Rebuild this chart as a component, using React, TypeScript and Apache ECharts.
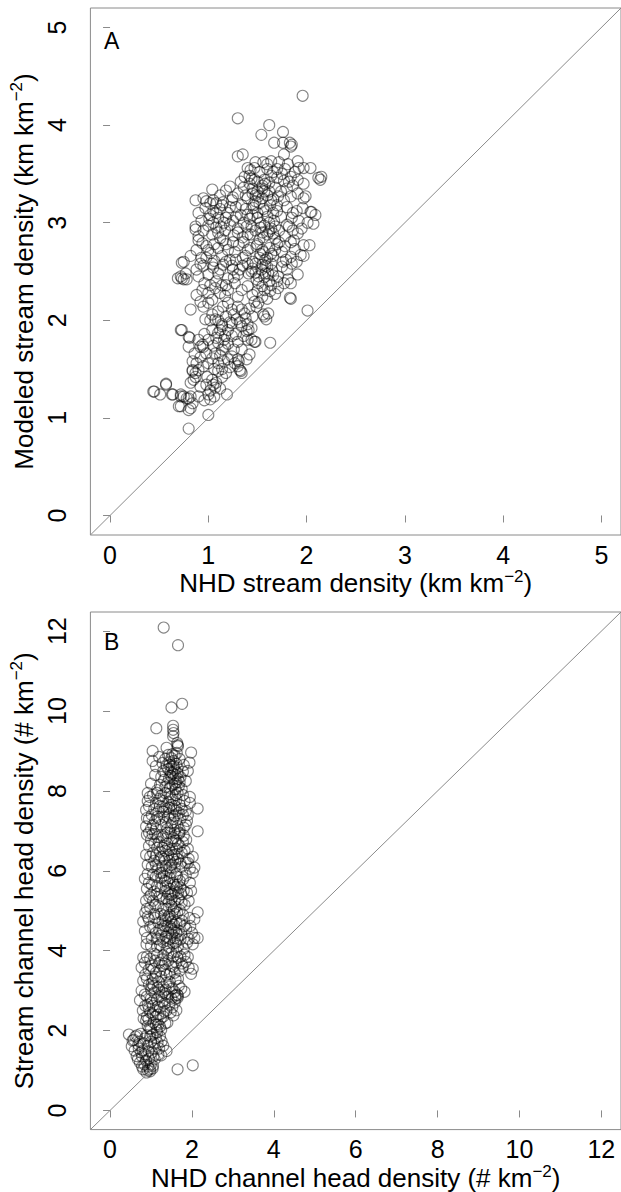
import React, { useEffect, useRef } from "react";
import * as echarts from "echarts";

// Panel A: NHD stream density (x) vs modeled stream density (y), km km^-2
const panelAPoints: number[][] = [
  [1.96,4.30],[1.30,4.07],[1.62,4.00],[1.54,3.90],[1.76,3.93],[1.67,3.82],[1.76,3.82],[1.83,3.82],[1.85,3.80],[1.84,3.78],
  [1.77,3.70],[1.30,3.68],[1.35,3.70],[1.64,3.63],[1.72,3.62],[1.81,3.60],[1.91,3.63],[1.92,3.56],[1.97,3.56],[2.04,3.56],
  [2.12,3.46],[2.14,3.44],[2.15,3.47],
  [1.40,3.56],[1.47,3.56],[1.43,3.54],[1.37,3.47],[1.44,3.45],[1.50,3.42],[1.57,3.44],[1.64,3.48],[1.70,3.46],[1.77,3.43],
  [1.84,3.47],[1.91,3.44],[1.97,3.40],[1.52,3.52],[1.60,3.55],[1.66,3.52],[1.78,3.55],[1.88,3.52],[1.42,3.40],[1.55,3.38],
  [1.62,3.41],[1.33,3.42],
  [1.04,3.34],[0.95,3.25],[1.05,3.23],[1.30,3.30],[1.24,3.23],[1.51,3.27],[1.57,3.32],[1.64,3.23],[1.71,3.27],[1.77,3.23],
  [1.84,3.27],[1.91,3.30],[1.97,3.25],[1.99,3.27],[1.12,3.28],[1.18,3.33],[1.36,3.36],[1.45,3.30],[1.48,3.22],[1.55,3.35],
  [1.60,3.28],[1.68,3.36],[1.74,3.32],[1.40,3.25],[1.15,3.21],[1.22,3.37],[0.87,3.23],[1.02,3.20],
  [1.96,3.15],[2.04,3.11],[2.09,3.08],[2.01,3.00],[2.07,2.99],[2.05,3.11],[0.90,3.10],[0.97,3.15],[1.05,3.12],[1.10,3.05],
  [1.14,3.18],[1.20,3.10],[1.25,3.02],[1.28,3.16],[1.33,3.08],[1.38,3.14],[1.42,3.04],[1.46,3.18],[1.50,3.10],[1.53,3.00],
  [1.56,3.14],[1.60,3.06],[1.63,3.18],[1.67,3.02],[1.70,3.12],[1.74,3.06],[1.80,3.16],[1.85,3.05],[1.90,3.12],[0.93,3.02],
  [1.01,3.04],[1.16,3.00],[1.45,3.08],[1.58,3.12],
  [0.87,2.96],[0.90,2.86],[0.87,2.93],[0.90,2.82],[1.91,2.89],[1.87,2.82],[0.95,2.92],[1.00,2.97],[1.04,2.88],[1.08,2.95],
  [1.12,2.84],[1.17,2.92],[1.22,2.98],[1.26,2.87],[1.30,2.94],[1.35,2.85],[1.39,2.96],[1.43,2.88],[1.48,2.92],[1.52,2.83],
  [1.57,2.97],[1.60,2.88],[1.64,2.94],[1.68,2.84],[1.72,2.92],[1.78,2.86],[1.82,2.96],[1.95,2.94],[1.55,2.90],[1.62,2.91],
  [1.66,2.89],
  [0.94,2.79],[1.97,2.77],[2.03,2.77],[1.97,2.66],[1.94,2.67],[1.84,2.65],[0.75,2.60],[0.82,2.66],[0.88,2.72],[0.93,2.64],
  [0.98,2.76],[1.02,2.69],[1.06,2.61],[1.10,2.74],[1.14,2.66],[1.18,2.78],[1.22,2.62],[1.27,2.70],[1.31,2.77],[1.35,2.64],
  [1.40,2.72],[1.45,2.60],[1.49,2.76],[1.53,2.68],[1.58,2.62],[1.62,2.74],[1.66,2.66],[1.70,2.78],[1.75,2.70],[1.79,2.62],
  [1.88,2.73],[1.56,2.70],[1.60,2.64],[1.64,2.58],
  [0.69,2.43],[0.75,2.42],[0.88,2.52],[0.73,2.59],[0.77,2.48],[0.72,2.45],[0.73,2.43],[0.78,2.42],[0.90,2.45],[1.00,2.47],
  [1.10,2.48],[1.20,2.43],[1.30,2.47],[1.41,2.48],[1.51,2.45],[1.61,2.48],[1.71,2.45],[1.81,2.42],[1.84,2.38],[1.91,2.47],
  [0.95,2.56],[1.05,2.54],[1.15,2.57],[1.25,2.52],[1.35,2.56],[1.45,2.53],[1.55,2.57],[1.65,2.51],[1.75,2.55],[1.85,2.58],
  [1.60,2.55],[1.48,2.49],[1.57,2.44],
  [0.94,2.31],[1.00,2.28],[1.07,2.33],[1.14,2.36],[1.20,2.31],[1.27,2.38],[1.34,2.31],[1.40,2.35],[1.51,2.38],[1.57,2.31],
  [1.64,2.36],[1.71,2.33],[1.77,2.38],[1.84,2.22],[1.04,2.21],[0.92,2.19],[1.83,2.23],[0.88,2.26],[1.17,2.25],[1.30,2.24],
  [1.45,2.26],[1.60,2.22],[1.68,2.27],[1.50,2.30],
  [2.01,2.10],[0.82,2.11],[1.47,2.19],[1.51,2.18],[1.49,2.14],[1.56,2.06],[1.59,2.01],[1.61,2.07],[1.57,2.04],[1.37,2.07],
  [1.34,2.11],[1.30,2.14],[1.24,2.11],[1.20,2.18],[1.15,2.14],[1.10,2.09],[1.04,2.06],[1.00,2.18],[0.95,2.14],[0.97,2.01],
  [1.02,2.00],[1.07,2.01],[1.29,2.01],
  [0.72,1.90],[0.73,1.90],[1.41,1.90],[1.04,1.90],[1.10,1.87],[1.14,1.94],[1.20,1.90],[1.24,1.97],[1.34,1.94],[1.39,1.89],
  [1.44,1.80],[1.40,1.80],[1.48,1.78],[0.80,1.83],[0.81,1.82],[1.17,1.84],[1.28,1.86],
  [1.63,1.77],[1.47,1.78],[0.80,1.73],[0.92,1.73],[0.95,1.73],[0.94,1.75],[1.17,1.73],[1.14,1.70],[1.10,1.77],[1.07,1.66],
  [1.04,1.61],[1.24,1.63],[1.20,1.60],[1.39,1.60],[1.42,1.65],[1.30,1.60],
  [1.33,1.48],[1.31,1.58],[1.27,1.56],[1.30,1.53],[1.00,1.56],[0.95,1.53],[1.32,1.49],[1.34,1.46],[0.84,1.48],[0.87,1.46],
  [0.84,1.49],[0.90,1.49],[1.14,1.42],[1.10,1.48],[0.99,1.42],[0.87,1.42],[1.04,1.39],[1.05,1.34],[1.07,1.31],[0.85,1.39],
  [0.82,1.36],
  [0.45,1.27],[0.44,1.27],[0.51,1.24],[0.57,1.34],[0.57,1.35],[0.63,1.24],[0.64,1.24],[0.72,1.24],[0.75,1.22],[0.78,1.20],
  [0.82,1.22],[0.72,1.22],[0.80,1.20],[1.02,1.19],[1.00,1.24],[1.19,1.24],
  [0.70,1.12],[0.72,1.12],[0.82,1.10],[0.80,1.08],[0.84,1.15],[1.00,1.03],[0.80,0.89],
  [1.45,3.35],[1.50,3.32],[1.48,3.28],[1.52,3.20],[1.55,3.25],[1.46,3.15],[1.50,3.05],[1.53,2.95],[1.56,2.85],[1.50,2.78],
  [1.55,2.72],[1.52,2.64],[1.48,2.58],[1.54,2.52],[1.58,2.48],[1.62,2.40],[1.55,2.35],[1.49,2.42],[1.44,2.50],[1.40,2.58],
  [1.38,2.66],[1.43,2.74],[1.36,2.80],[1.40,2.88],[1.44,2.96],[1.36,3.00],[1.40,3.08],[1.34,3.18],[1.38,3.28],[1.42,3.48],
  [1.47,3.44],[1.58,3.40],[1.62,3.32],[1.66,3.24],[1.70,3.18],[1.66,3.10],[1.62,3.00],[1.68,2.96],[1.72,2.80],[1.68,2.72],
  [1.64,2.68],[1.58,2.56],[1.66,2.46],[1.70,2.40],[1.63,2.30],[1.55,2.24],
  [1.05,3.00],[1.08,3.10],[1.12,3.14],[1.02,3.08],[0.98,3.22],[1.08,3.20],[1.13,2.96],[1.18,3.05],[1.22,3.16],[1.25,3.26],
  [1.28,3.06],[1.30,2.90],[1.25,2.80],[1.20,2.72],[1.15,2.82],[1.10,2.90],[1.06,2.78],[1.00,2.72],[1.04,2.58],[1.12,2.52],
  [1.18,2.60],[1.24,2.56],[1.28,2.62],[1.32,2.52],[1.26,2.44],[1.18,2.36],[1.12,2.28],[1.08,2.40],[1.02,2.36],[0.96,2.38],
  [0.92,2.58],[0.98,2.64],
  [1.10,2.00],[1.14,1.96],[1.18,2.04],[1.22,1.98],[1.26,2.06],[1.12,1.90],[1.16,1.80],[1.20,1.76],[1.24,1.84],[1.08,1.82],
  [1.05,1.74],[1.12,1.64],[1.16,1.58],[1.10,1.56],[1.06,1.50],[1.14,1.50],[1.18,1.46],[1.22,1.52],[1.26,1.70],[1.30,1.78],
  [1.34,1.70],[1.36,1.84],[1.32,1.98],[1.38,2.02],[1.42,2.12],[1.45,2.04],[1.40,1.96],[1.44,1.92],[1.02,1.28],[1.08,1.36],
  [1.12,1.30],[0.98,1.34],[0.92,1.32],[0.90,1.22],[0.96,1.18],[1.06,1.22],[0.88,1.56],[0.92,1.62],[0.98,1.66],[1.00,1.80],
  [0.96,1.86],[0.90,1.80],[0.86,1.66],[0.84,1.58],
  [1.80,3.35],[1.86,3.38],[1.75,3.50],[1.82,3.42],[1.70,3.55],[1.60,3.60],[1.56,3.62],[1.48,3.62],[1.86,3.10],[1.92,3.02],
  [1.80,2.98],[1.86,2.92],[1.78,2.76],[1.84,2.80],[1.90,2.60],[1.80,2.52],[1.76,2.60]
];

// Panel B: NHD channel head density (x) vs stream channel head density (y), # km^-2
const panelBPoints: number[][] = [
  [1.31,12.09],[1.66,11.65],[1.76,10.18],[1.50,10.09],[1.13,9.57],[1.54,9.63],[1.54,9.53],[1.55,9.45],[1.54,9.37],[1.64,9.20],
  [1.66,9.12],[1.65,9.15],[1.38,9.08],[1.04,9.00],[1.04,8.75],[1.98,8.96],[1.94,8.71],[2.14,7.56],[2.14,6.99],
  [1.20,8.85],[1.35,8.80],[1.45,8.72],[1.55,8.75],[1.62,8.68],[1.70,8.80],[1.80,8.65],[1.50,8.60],[1.42,8.55],[1.58,8.52],
  [1.65,8.45],[1.30,8.50],[1.10,8.40],[1.25,8.35],[1.48,8.38],[1.55,8.30],[1.62,8.22],[1.72,8.35],[1.85,8.25],[1.40,8.20],
  [1.35,8.10],[1.52,8.15],[1.60,8.05],[1.68,8.12],[1.00,8.18],[1.15,8.02],[1.45,8.65],[1.60,8.40],[1.53,8.45],[1.90,8.50],
  [0.97,7.85],[0.92,7.75],[0.88,7.52],[0.88,7.11],[0.95,7.62],[1.05,7.90],[1.12,7.70],[1.20,7.80],[1.28,7.60],[1.35,7.95],
  [1.42,7.72],[1.48,7.85],[1.55,7.55],[1.62,7.78],[1.70,7.65],[1.78,7.90],[1.85,7.50],[1.95,7.70],[1.02,7.40],[1.10,7.25],
  [1.18,7.48],[1.25,7.15],[1.32,7.35],[1.40,7.05],[1.46,7.42],[1.52,7.20],[1.58,7.38],[1.65,7.12],[1.72,7.30],[1.80,7.08],
  [1.88,7.25],[0.95,7.30],[1.00,7.05],[1.38,7.55],[1.60,7.90],[1.50,7.65],[1.90,7.40],
  [0.90,6.90],[0.95,6.62],[1.00,6.78],[1.05,6.45],[1.10,6.92],[1.15,6.58],[1.20,6.72],[1.25,6.35],[1.30,6.85],[1.35,6.50],
  [1.40,6.68],[1.45,6.25],[1.48,6.95],[1.52,6.55],[1.56,6.40],[1.60,6.75],[1.65,6.30],[1.70,6.62],[1.75,6.45],[1.80,6.88],
  [1.85,6.20],[1.90,6.55],[1.95,6.05],[2.02,6.35],[0.88,6.40],[0.92,6.15],[1.02,6.10],[1.08,6.25],[1.18,6.05],[1.28,6.12],
  [1.38,6.02],[1.50,6.15],[1.58,6.08],[1.62,6.55],[1.42,6.40],[1.55,6.82],[1.68,6.92],[1.12,6.38],[1.33,6.62],
  [0.85,5.80],[0.90,5.55],[0.88,5.25],[0.95,5.70],[1.00,5.40],[1.05,5.90],[1.10,5.15],[1.15,5.62],[1.20,5.35],[1.25,5.82],
  [1.30,5.05],[1.35,5.50],[1.40,5.72],[1.44,5.22],[1.48,5.95],[1.52,5.42],[1.56,5.65],[1.60,5.10],[1.64,5.85],[1.68,5.30],
  [1.72,5.58],[1.78,5.78],[1.82,5.15],[1.88,5.45],[1.95,5.70],[2.06,6.08],[2.02,5.95],[1.90,6.20],[1.45,5.55],[1.50,5.30],
  [1.58,5.48],[1.38,5.30],[1.62,5.60],[0.98,5.08],[1.22,5.95],[1.70,5.02],[1.32,5.88],
  [0.81,4.73],[0.85,4.49],[0.89,4.16],[0.92,4.85],[0.98,4.60],[1.02,4.30],[1.08,4.92],[1.12,4.45],[1.18,4.70],[1.22,4.15],
  [1.28,4.55],[1.32,4.88],[1.36,4.35],[1.40,4.62],[1.44,4.08],[1.48,4.80],[1.52,4.40],[1.56,4.65],[1.60,4.20],[1.64,4.95],
  [1.68,4.50],[1.72,4.28],[1.76,4.75],[1.80,4.05],[1.86,4.55],[1.92,4.30],[2.06,4.79],[2.14,4.96],[2.06,4.32],[2.02,4.16],
  [2.14,4.32],[1.96,4.62],[1.42,4.45],[1.50,4.55],[1.58,4.32],[1.35,4.75],[1.62,4.72],[1.25,4.38],[1.45,4.90],[1.15,4.10],
  [0.77,3.58],[0.81,3.83],[0.77,3.00],[0.81,3.25],[0.86,3.40],[0.90,3.85],[0.95,3.15],[1.00,3.62],[1.04,3.30],[1.08,3.92],
  [1.12,3.45],[1.16,3.08],[1.20,3.70],[1.25,3.35],[1.30,3.88],[1.34,3.52],[1.38,3.20],[1.42,3.75],[1.46,3.42],[1.50,3.95],
  [1.55,3.60],[1.60,3.28],[1.65,3.82],[1.70,3.50],[1.75,3.68],[1.82,3.90],[1.90,3.84],[2.02,3.55],[1.98,3.42],[1.74,3.05],
  [1.82,2.97],[1.58,2.97],[1.45,3.10],[1.00,3.02],[1.10,3.75],[1.28,3.62],[1.62,3.98],
  [0.73,2.76],[0.80,2.50],[0.85,2.90],[0.88,2.25],[0.92,2.65],[0.96,2.05],[1.00,2.80],[1.04,2.40],[1.08,2.95],[1.12,2.15],
  [1.16,2.60],[1.20,2.85],[1.24,2.30],[1.28,2.72],[1.32,2.48],[1.36,2.92],[1.40,2.20],[1.45,2.65],[1.50,2.80],[1.62,2.51],
  [1.66,2.88],[1.55,2.38],[1.14,2.02],[0.95,2.55],[1.05,2.62],[1.18,2.40],[1.22,2.10],[0.90,2.35],[1.30,2.95],[1.60,2.88],
  [1.65,2.82],
  [0.46,1.90],[0.58,1.77],[0.53,1.61],[0.69,1.65],[0.65,1.36],[0.73,1.20],[0.81,1.03],[0.89,0.95],[0.97,1.03],[1.05,1.12],
  [1.09,1.28],[1.38,1.49],[1.26,1.73],[0.62,1.85],[0.75,1.92],[0.85,1.80],[0.80,1.50],[0.92,1.62],[0.98,1.85],[1.02,1.45],
  [1.08,1.68],[1.15,1.95],[1.20,1.55],[1.25,1.38],[0.88,1.25],[0.95,1.30],[0.70,1.55],[1.00,1.15],[0.93,1.10],[1.65,1.03],
  [2.02,1.13],[0.78,1.35],[1.12,1.82],[1.30,1.62],
  [1.42,8.90],[1.58,8.88],[1.50,8.82],[1.65,8.58],[1.38,8.62],[1.48,8.48],[1.56,8.62],[1.44,8.32],[1.58,8.18],[1.66,8.30],
  [1.32,8.28],[1.46,8.08],[1.75,8.05],[1.22,8.15],[1.52,8.92],[1.63,8.95],[1.28,8.70],[1.12,8.62],[1.78,8.48],[1.70,8.22],
  [1.15,7.95],[1.25,7.88],[1.30,7.75],[1.45,7.92],[1.52,7.78],[1.58,7.62],[1.65,7.95],[1.68,7.45],[1.75,7.55],[1.82,7.75],
  [1.08,7.55],[1.15,7.35],[1.22,7.62],[1.30,7.48],[1.36,7.22],[1.44,7.58],[1.48,7.12],[1.55,7.30],[1.62,7.50],[1.70,7.02],
  [1.78,7.40],[1.85,7.15],[1.05,7.15],[1.12,7.05],[1.20,7.30],[1.42,7.35],[1.58,7.02],[1.95,7.85],[0.92,7.95],[0.90,7.32],
  [1.08,6.68],[1.16,6.85],[1.22,6.48],[1.28,6.58],[1.32,6.30],[1.38,6.82],[1.44,6.52],[1.50,6.72],[1.54,6.28],[1.58,6.95],
  [1.63,6.42],[1.66,6.68],[1.72,6.18],[1.78,6.72],[1.82,6.50],[1.86,6.78],[1.92,6.30],[0.98,6.35],[1.04,6.92],[1.12,6.15],
  [1.20,6.28],[1.26,6.90],[1.36,6.12],[1.46,6.08],[1.52,6.38],[1.60,6.22],[1.70,6.95],[0.95,6.95],[1.40,6.95],[1.75,6.10],
  [0.92,5.92],[0.96,5.35],[1.02,5.65],[1.08,5.48],[1.12,5.85],[1.18,5.12],[1.24,5.58],[1.28,5.30],[1.34,5.75],[1.38,5.05],
  [1.42,5.42],[1.46,5.82],[1.50,5.12],[1.54,5.70],[1.58,5.25],[1.62,5.92],[1.66,5.45],[1.70,5.75],[1.75,5.20],[1.80,5.50],
  [1.85,5.88],[1.92,5.25],[1.98,5.50],[1.05,5.25],[1.15,5.42],[1.27,5.95],[1.36,5.62],[1.48,5.40],[1.55,5.02],[1.65,5.65],
  [1.74,5.42],[0.90,5.05],
  [0.86,4.95],[0.90,4.32],[0.95,4.78],[1.00,4.12],[1.05,4.58],[1.10,4.82],[1.14,4.30],[1.20,4.52],[1.24,4.92],[1.30,4.22],
  [1.34,4.62],[1.38,4.05],[1.42,4.85],[1.46,4.30],[1.50,4.72],[1.54,4.18],[1.58,4.92],[1.62,4.45],[1.66,4.12],[1.70,4.68],
  [1.74,4.40],[1.78,4.90],[1.82,4.62],[1.88,4.20],[1.94,4.82],[2.00,4.45],[1.40,4.25],[1.48,4.60],[1.56,4.50],[1.64,4.30],
  [1.28,4.75],[1.18,4.28],
  [0.85,3.70],[0.90,3.30],[0.94,3.52],[0.98,3.80],[1.02,3.18],[1.06,3.55],[1.10,3.35],[1.14,3.88],[1.18,3.22],[1.22,3.50],
  [1.26,3.78],[1.30,3.10],[1.34,3.68],[1.38,3.40],[1.42,3.92],[1.46,3.22],[1.50,3.62],[1.54,3.85],[1.58,3.45],[1.62,3.70],
  [1.66,3.30],[1.72,3.85],[1.78,3.60],[1.85,3.72],[1.92,3.58],[1.68,3.12],[1.52,3.05],[1.36,3.02],[1.20,3.02],[1.06,3.12],
  [0.82,2.30],[0.86,2.62],[0.90,2.85],[0.94,2.28],[0.98,2.45],[1.02,2.70],[1.06,2.20],[1.10,2.50],[1.14,2.78],[1.18,2.15],
  [1.22,2.58],[1.26,2.88],[1.30,2.35],[1.34,2.68],[1.38,2.50],[1.42,2.85],[1.48,2.45],[1.52,2.58],[1.58,2.70],[1.12,2.35],
  [1.00,2.05],[0.92,2.12],[1.25,2.02],[1.35,2.18],[1.60,2.80],[1.64,2.90],
  [0.55,1.75],[0.60,1.50],[0.66,1.88],[0.72,1.72],[0.76,1.45],[0.82,1.68],[0.86,1.40],[0.90,1.88],[0.94,1.48],[1.00,1.72],
  [1.04,1.90],[1.06,1.35],[1.10,1.55],[1.16,1.70],[1.22,1.85],[0.84,1.15],[0.92,1.00],[0.98,0.98],[1.04,1.05],[0.78,1.10],
  [0.68,1.28],[1.18,1.40]
];

const ticksA = [0, 1, 2, 3, 4, 5];
const ticksB = [0, 2, 4, 6, 8, 10, 12];
const rangeA = [-0.2, 5.2];
const rangeB = [-0.48, 12.48];
const panelLabels = ["A", "B"];
const xTitles = ["NHD stream density (km km", "NHD channel head density (# km"];
const yTitles = ["Modeled stream density (km km", "Stream channel head density (# km"];

const FONT = "'Liberation Sans', Arial, Helvetica, sans-serif";
const GRAY = "#8a8a8a";

export default function App() {
  const ref = useRef<HTMLDivElement>(null);
  useEffect(() => {
    document.body.style.margin = "0";
    document.body.style.overflow = "hidden";
    if (!ref.current) return;
    const chart = echarts.init(ref.current, null, { renderer: "svg" });

    const rich = {
      t: { fontSize: 26, fontFamily: FONT, color: "#000" },
      s: { fontSize: 17, fontFamily: FONT, color: "#000", padding: [0, 0, 14, 0] },
    };

    const mkX = (i: number, range: number[], ticks: number[]) => ({
      type: "value",
      gridIndex: i,
      min: range[0],
      max: range[1],
      splitLine: { show: false },
      axisLine: { show: false },
      axisTick: { show: true, customValues: ticks, length: 7, lineStyle: { color: GRAY, width: 1 } },
      axisLabel: { customValues: ticks, fontSize: 25, fontFamily: FONT, color: "#000", margin: 7 },
      name: `{t|${xTitles[i]}}{s|−2}{t|)}`,
      nameLocation: "middle",
      nameGap: 30,
      nameTextStyle: { rich },
    });
    const mkY = (i: number, range: number[], ticks: number[]) => ({
      type: "value",
      gridIndex: i,
      min: range[0],
      max: range[1],
      splitLine: { show: false },
      axisLine: { show: false },
      axisTick: { show: true, customValues: ticks, length: 7, lineStyle: { color: GRAY, width: 1 } },
      axisLabel: { customValues: ticks, fontSize: 25, fontFamily: FONT, color: "#000", rotate: 90, margin: 21 },
      name: `{t|${yTitles[i]}}{s|−2}{t|)}`,
      nameLocation: "middle",
      nameGap: 50,
      nameTextStyle: { rich },
    });

    const scatterStyle = {
      color: "rgba(0,0,0,0)",
      borderColor: "rgba(0,0,0,0.6)",
      borderWidth: 1.1,
    };

    chart.setOption({
      animation: false,
      grid: [
        { left: 87, top: 8, width: 537, height: 527, show: true, borderColor: GRAY, borderWidth: 1, backgroundColor: "#fff" },
        { left: 87, top: 612, width: 538, height: 526, show: true, borderColor: GRAY, borderWidth: 1, backgroundColor: "#fff" },
      ],
      xAxis: [mkX(0, rangeA, ticksA), mkX(1, rangeB, ticksB)],
      yAxis: [mkY(0, rangeA, ticksA), mkY(1, rangeB, ticksB)],
      series: [
        {
          type: "line",
          xAxisIndex: 0,
          yAxisIndex: 0,
          data: [[rangeA[0], rangeA[0]], [rangeA[1], rangeA[1]]],
          showSymbol: false,
          silent: true,
          lineStyle: { color: GRAY, width: 1 },
        },
        {
          type: "scatter",
          xAxisIndex: 0,
          yAxisIndex: 0,
          data: panelAPoints,
          symbol: "circle",
          symbolSize: 11,
          itemStyle: scatterStyle,
        },
        {
          type: "line",
          xAxisIndex: 1,
          yAxisIndex: 1,
          data: [[rangeB[0], rangeB[0]], [rangeB[1], rangeB[1]]],
          showSymbol: false,
          silent: true,
          lineStyle: { color: GRAY, width: 1 },
        },
        {
          type: "scatter",
          xAxisIndex: 1,
          yAxisIndex: 1,
          data: panelBPoints,
          symbol: "circle",
          symbolSize: 11,
          itemStyle: scatterStyle,
        },
      ],
      graphic: [
        { type: "text", left: 104, top: 29, style: { text: panelLabels[0], fontSize: 23, fontFamily: FONT, fill: "#000" } },
        { type: "text", left: 104, top: 630, style: { text: panelLabels[1], fontSize: 23, fontFamily: FONT, fill: "#000" } },
      ],
    });
    return () => chart.dispose();
  }, []);
  return <div ref={ref} style={{ width: 621, height: 1192 }} />;
}
